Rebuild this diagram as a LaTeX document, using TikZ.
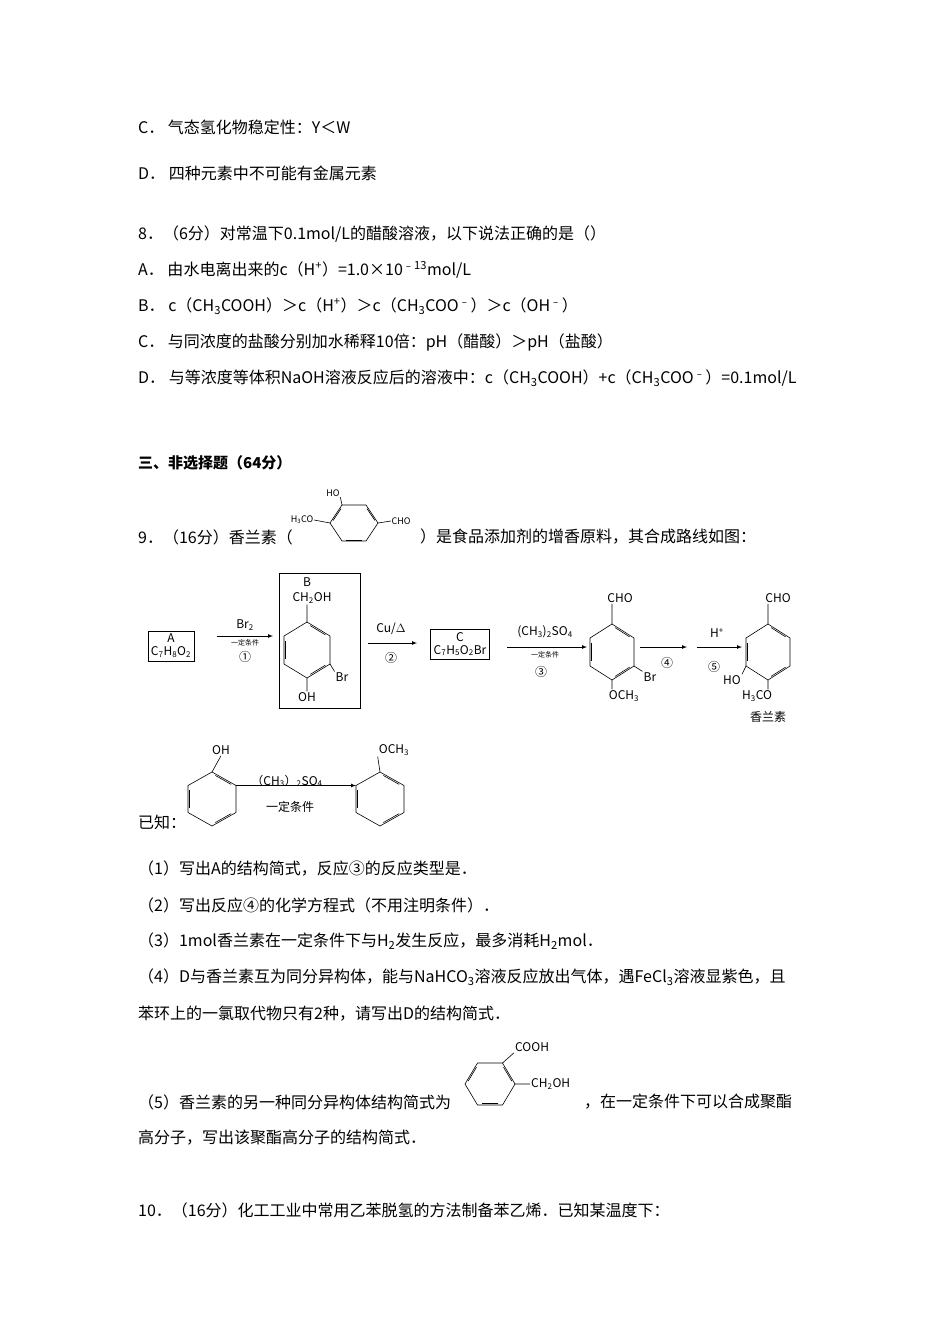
\documentclass[tikz,border=0pt]{standalone}
\usepackage{fontspec}
\setmainfont{Noto Sans CJK SC}
\usetikzlibrary{calc}
\newcommand\benzP[5]{% name cx cy w h, pointy top
 \coordinate (#1c) at (#2,#3);
 \coordinate (#1-0) at (#2,{#3-#5});
 \coordinate (#1-1) at ({#2+#4},{#3-#5/2});
 \coordinate (#1-2) at ({#2+#4},{#3+#5/2});
 \coordinate (#1-3) at (#2,{#3+#5});
 \coordinate (#1-4) at ({#2-#4},{#3+#5/2});
 \coordinate (#1-5) at ({#2-#4},{#3-#5/2});
 \draw[bond] (#1-0)--(#1-1)--(#1-2)--(#1-3)--(#1-4)--(#1-5)--cycle;
 \foreach \a/\b in {0/1,2/3,4/5}{\draw[bond] ($(#1c)!0.8!(#1-\a)!0.12!(#1c)!0.8!(#1-\b)$)--($(#1c)!0.8!(#1-\b)!0.12!(#1c)!0.8!(#1-\a)$);}
}
\newcommand\benzF[5]{% flat top
 \coordinate (#1c) at (#2,#3);
 \coordinate (#1-0) at ({#2-#4/2},{#3-#5});
 \coordinate (#1-1) at ({#2+#4/2},{#3-#5});
 \coordinate (#1-2) at ({#2+#4},#3);
 \coordinate (#1-3) at ({#2+#4/2},{#3+#5});
 \coordinate (#1-4) at ({#2-#4/2},{#3+#5});
 \coordinate (#1-5) at ({#2-#4},#3);
 \draw[bond] (#1-0)--(#1-1)--(#1-2)--(#1-3)--(#1-4)--(#1-5)--cycle;
 \foreach \a/\b in {5/0,1/2,3/4}{\draw[bond] ($(#1c)!0.8!(#1-\a)!0.12!(#1c)!0.8!(#1-\b)$)--($(#1c)!0.8!(#1-\b)!0.12!(#1c)!0.8!(#1-\a)$);}
}
\begin{document}
\begin{tikzpicture}[x=1pt,y=-1pt,
 t/.style={anchor=west,inner sep=0,font=\fontsize{16}{18}\selectfont},
 ch/.style={inner sep=1pt,font=\fontsize{12}{14}\selectfont},
 sm/.style={inner sep=0.5pt,font=\fontsize{7}{8}\selectfont},
 vs/.style={inner sep=0.5pt,font=\fontsize{9}{10}\selectfont},
 bond/.style={line width=0.6pt},
 cbox/.style={draw,line width=0.7pt,inner sep=3pt,align=center,font=\fontsize{12}{13}\selectfont},
 arr/.style={-latex,line width=0.7pt}]
\useasboundingbox (0,0) rectangle (950,1344);
\node[t] (l1) at (138,127) {C．\ 气态氢化物稳定性：Y＜W};
\node[t] (l2) at (138,173) {D．\ 四种元素中不可能有金属元素};
\node[t] (l3) at (138,234) {8．（6分）对常温下0.1mol/L的醋酸溶液，以下说法正确的是（）};
\node[t] (l4) at (138,270) {A．\ 由水电离出来的c（H\textsuperscript{+}）=1.0×10\textsuperscript{﹣13}mol/L};
\node[t] (l5) at (138,306) {B．\ c（CH\textsubscript{3}COOH）＞c（H\textsuperscript{+}）＞c（CH\textsubscript{3}COO\textsuperscript{﹣}）＞c（OH\textsuperscript{﹣}）};
\node[t] (l6) at (138,342) {C．\ 与同浓度的盐酸分别加水稀释10倍：pH（醋酸）＞pH（盐酸）};
\node[t] (l7) at (138,378) {D．\ 与等浓度等体积NaOH溶液反应后的溶液中：c（CH\textsubscript{3}COOH）+c（CH\textsubscript{3}COO\textsuperscript{﹣}）=0.1mol/L};
\node[t,font=\fontsize{15}{18}\selectfont\bfseries] (h3) at (138,463) {三、非选择题（64分）};
\node[t] (l9a) at (138,537) {9．（16分）香兰素（};
\node[t] (l9b) at (420,537) {）是食品添加剂的增香原料，其合成路线如图：};
% inline vanillin
\benzF{v}{354}{523}{24}{18}
\node[vs,anchor=east] (vo) at (314,520) {H\textsubscript{3}CO};
\node[vs] (vh) at (333,493) {HO};
\node[vs,anchor=west] (vc) at (391,521) {CHO};
\draw[bond] (v-5)--(vo.east) (v-0)--(vh.south east) (v-2)--(vc.west);
% scheme
\node[cbox] (A) at (171,646) {A\\C\textsubscript{7}H\textsubscript{8}O\textsubscript{2}};
\draw[bond] (279,573) rectangle (360,708);
\node[ch] (Bl) at (307,582) {B};
\node[ch] (Bch) at (312,598) {CH\textsubscript{2}OH};
\benzP{b}{307}{650}{23}{28}
\node[ch] (Boh) at (307,697) {OH};
\node[ch] (Bbr) at (342,677) {Br};
\draw[bond] (b-0)--(Bch.south-|b-0) (b-3)--(Boh.north) (b-2)--(Bbr.north west);
\coordinate (a1s) at (217,636); \coordinate (a1e) at (273,636);
\draw[arr] (a1s)--(a1e);
\node[ch] (r1a) at (245,625) {Br\textsubscript{2}};
\node[sm] (r1b) at (245,643) {一定条件};
\node[ch] (r1c) at (245,657) {①};
\coordinate (a2s) at (368,643); \coordinate (a2e) at (417,643);
\draw[arr] (a2s)--(a2e);
\node[ch] (r2a) at (391,629) {Cu/$\Delta$};
\node[ch] (r2b) at (391,658) {②};
\node[cbox] (C) at (460,644) {C\\C\textsubscript{7}H\textsubscript{5}O\textsubscript{2}Br};
\coordinate (a3s) at (507,647); \coordinate (a3e) at (587,647);
\draw[arr] (a3s)--(a3e);
\node[ch] (r3a) at (545,632) {(CH\textsubscript{3})\textsubscript{2}SO\textsubscript{4}};
\node[sm] (r3b) at (545,655) {一定条件};
\node[ch] (r3c) at (541,672) {③};
\benzP{d}{612}{652}{22}{28}
\node[ch] (dc) at (620,598) {CHO};
\node[ch] (do) at (624,696) {OCH\textsubscript{3}};
\node[ch] (dbr) at (650,677) {Br};
\draw[bond] (d-0)--(d-0|-dc.south) (d-3)--(d-3|-do.north) (d-2)--(dbr.north west);
\coordinate (a4s) at (640,647); \coordinate (a4e) at (687,647);
\draw[arr] (a4s)--(a4e);
\node[ch] (r4) at (667,663) {④};
\coordinate (a5s) at (697,647); \coordinate (a5e) at (742,647);
\draw[arr] (a5s)--(a5e);
\node[ch] (r5a) at (717,633) {H\textsuperscript{+}};
\node[ch] (r5b) at (714,667) {⑤};
\benzP{e}{768}{652}{22}{28}
\node[ch] (ec) at (778,598) {CHO};
\node[ch] (eho) at (732,680) {HO};
\node[ch] (eo) at (757,696) {H\textsubscript{3}CO};
\node[ch] (en) at (768,717) {香兰素};
\draw[bond] (e-0)--(e-0|-ec.south) (e-3)--(e-3|-eo.north) (e-4)--(eho.north east);
% known
\node[t] (yz) at (138,822) {已知：};
\benzP{k}{212}{799}{24}{27}
\node[ch] (koh) at (221,750) {OH};
\draw[bond] (k-0)--(koh.south);
\benzP{m}{380}{799}{24}{27}
\node[ch] (moc) at (394,750) {OCH\textsubscript{3}};
\draw[bond] (m-0)--(moc.south west);
\draw[arr] (k-1)--(m-5);
\node[ch] (kr1) at (287,781) {（CH\textsubscript{3}）\textsubscript{2}SO\textsubscript{4}};
\node[ch] (kr2) at (290,807) {一定条件};
% questions
\node[t] (q1) at (138,868) {（1）写出A的结构简式，反应③的反应类型是．};
\node[t] (q2) at (138,905) {（2）写出反应④的化学方程式（不用注明条件）．};
\node[t] (q3) at (138,941) {（3）1mol香兰素在一定条件下与H\textsubscript{2}发生反应，最多消耗H\textsubscript{2}mol．};
\node[t] (q4) at (138,977) {（4）D与香兰素互为同分异构体，能与NaHCO\textsubscript{3}溶液反应放出气体，遇FeCl\textsubscript{3}溶液显紫色，且};
\node[t] (q4b) at (138,1014) {苯环上的一氯取代物只有2种，请写出D的结构简式．};
\node[t] (q5a) at (138,1102) {（5）香兰素的另一种同分异构体结构简式为};
\node[t] (q5b) at (584,1102) {，在一定条件下可以合成聚酯};
\benzF{p}{490}{1084}{25}{21}
\node[ch,anchor=west] (pc) at (514,1047) {COOH};
\node[ch,anchor=west] (ph) at (530,1084) {CH\textsubscript{2}OH};
\draw[bond] (p-1)--(pc.south west) (p-2)--(ph.west);
\node[t] (q5c) at (138,1138) {高分子，写出该聚酯高分子的结构简式．};
\node[t] (q10) at (138,1210) {10．（16分）化工工业中常用乙苯脱氢的方法制备苯乙烯．已知某温度下：};
\end{tikzpicture}
\end{document}
